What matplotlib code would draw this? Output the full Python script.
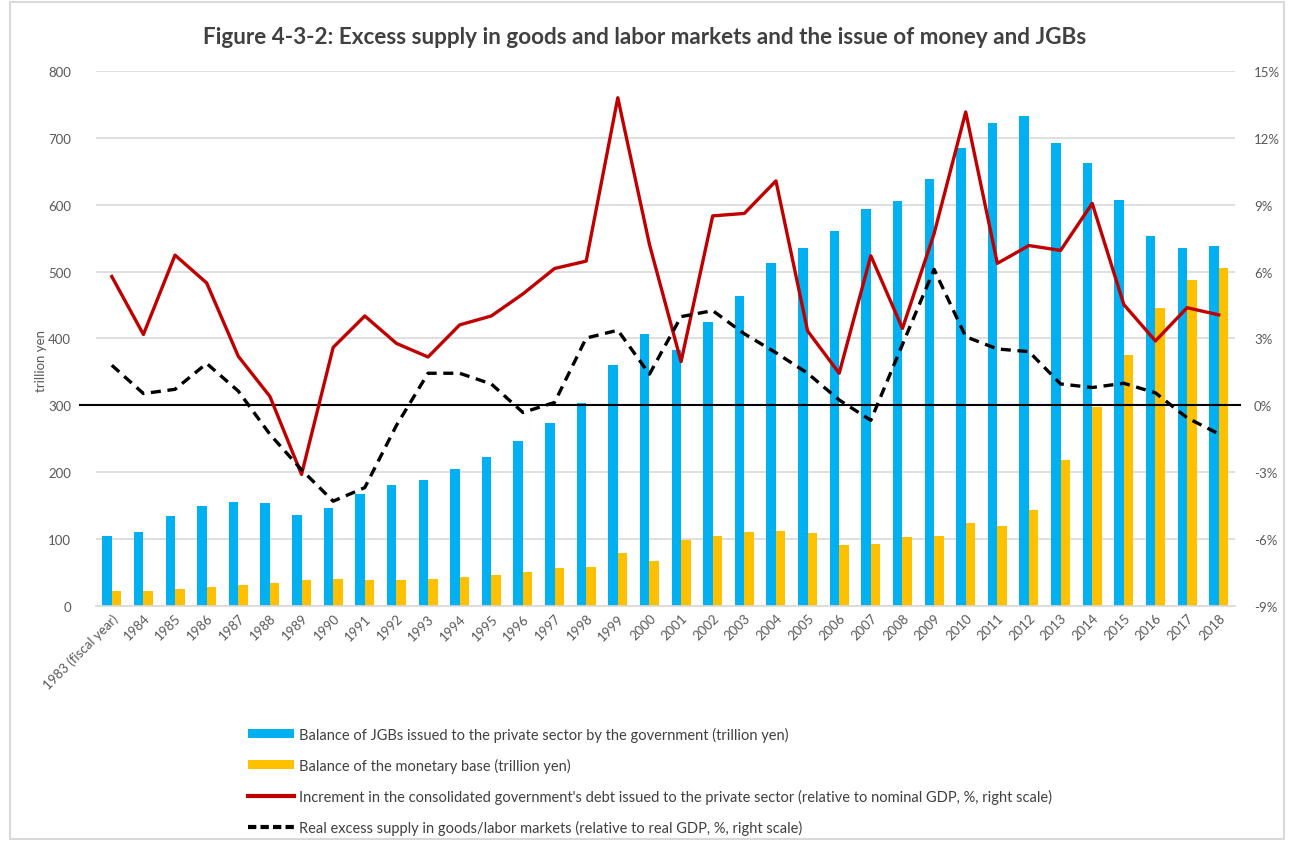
import matplotlib
matplotlib.use("Agg")
import matplotlib.pyplot as plt
from matplotlib.patches import Patch, Rectangle
from matplotlib.lines import Line2D
import numpy as np

years = ["1983 (fiscal year)"] + [str(y) for y in range(1984, 2019)]

jgb_balance = [104, 111, 134, 150, 155, 154, 136, 146, 167, 181, 189, 205, 223, 246,
               273, 304, 360, 407, 383, 424, 464, 513, 535, 560, 594, 605, 639, 685,
               722, 733, 693, 663, 607, 553, 535, 539]
monetary_base = [23, 23, 26, 28, 31, 35, 39, 41, 39, 39, 41, 43, 47, 51,
                 57, 59, 79, 67, 98, 104, 111, 112, 109, 91, 93, 103, 104, 124,
                 119, 143, 219, 297, 376, 446, 487, 505]
debt_increment = [5.78, 3.18, 6.74, 5.49, 2.20, 0.40, -3.10, 2.60, 4.01, 2.78, 2.17, 3.61, 4.01, 5.0,
                  6.14, 6.47, 13.8, 7.22, 1.96, 8.50, 8.61, 10.07, 3.34, 1.44, 6.71, 3.45, 7.70, 13.16,
                  6.37, 7.17, 6.95, 9.06, 4.52, 2.89, 4.38, 4.06]
excess_supply = [1.80, 0.53, 0.72, 1.88, 0.64, -1.3, -2.89, -4.30, -3.69, -0.9, 1.44, 1.44, 0.96, -0.32,
                 0.13, 3.02, 3.37, 1.40, 3.98, 4.25, 3.21, 2.36, 1.44, 0.24, -0.67, 2.73, 6.10, 3.08,
                 2.53, 2.41, 0.96, 0.80, 0.99, 0.56, -0.56, -1.28]

left_ticks = [0, 100, 200, 300, 400, 500, 600, 700, 800]
right_ticks = [-9, -6, -3, 0, 3, 6, 9, 12, 15]

labels = [
    "Balance of JGBs issued to the private sector by the government (trillion yen)",
    "Balance of the monetary base (trillion yen)",
    "Increment in the consolidated government's debt issued to the private sector (relative to nominal GDP, %, right scale)",
    "Real excess supply in goods/labor markets (relative to real GDP, %, right scale)",
]

BLUE = "#00B0F0"
YELLOW = "#FFC000"
RED = "#C00000"
GRID = "#D9D9D9"
TXT = "#595959"
FONT = ["Lato", "DejaVu Sans"]

plt.rcParams["font.family"] = FONT

fig = plt.figure(figsize=(12.9, 8.45), dpi=100)
ax = fig.add_axes([0.0744, 0.2817, 0.8826, 0.6331])
ax2 = ax.twinx()

x = np.arange(len(years))
w = 0.3
ax.bar(x - w / 2, jgb_balance, width=w, color=BLUE, zorder=2)
ax.bar(x + w / 2, monetary_base, width=w, color=YELLOW, zorder=2)

ax.set_ylim(0, 800)
ax.set_yticks(left_ticks)
ax.set_xlim(-0.5, len(years) - 0.5)
ax.grid(axis="y", color=GRID, linewidth=1.2, zorder=0)
ax.set_axisbelow(True)
for s in ax.spines.values():
    s.set_visible(False)
for s in ax2.spines.values():
    s.set_visible(False)
ax.spines["bottom"].set_visible(True)
ax.spines["bottom"].set_color(GRID)
ax.spines["bottom"].set_linewidth(1.2)

ax.tick_params(axis="y", length=0, colors=TXT, labelsize=9.5, pad=18)
ax.tick_params(axis="x", length=0, colors=TXT, labelsize=9.5, pad=4)
ax.set_xticks(x)
ax.set_xticklabels(years, rotation=45, ha="right", rotation_mode="anchor")
ax.set_ylabel("trillion yen", color=TXT, fontsize=9.5, labelpad=0)
ax.yaxis.set_label_coords(-0.043, 0.46)

ax2.set_ylim(-9, 15)
ax2.set_yticks(right_ticks)
ax2.set_yticklabels([f"{t}%" for t in right_ticks])
ax2.tick_params(axis="y", length=0, colors=TXT, labelsize=9.5, pad=14)
ax2.axhline(0, xmin=-0.014, xmax=1.005, color="black", linewidth=1.5, zorder=3, clip_on=False)
ax2.plot(x, debt_increment, color=RED, linewidth=2.4, zorder=4)
ax2.plot(x, excess_supply, color="black", linewidth=2.4, linestyle=(0, (3, 2)), zorder=4)

fig.suptitle("Figure 4-3-2: Excess supply in goods and labor markets and the issue of money and JGBs",
             x=0.5, y=0.968, fontsize=16.2, fontweight="bold", color="#404040")

handles = [
    Patch(facecolor=BLUE),
    Patch(facecolor=YELLOW),
    Line2D([], [], color=RED, linewidth=3),
    Line2D([], [], color="black", linewidth=3, linestyle=(0, (2, 1))),
]
fig.legend(handles, labels, loc="upper left", bbox_to_anchor=(0.192, 0.139),
           bbox_transform=fig.transFigure, frameon=False, fontsize=10.5,
           handlelength=3.2, handleheight=0.5, handletextpad=0.3, labelspacing=1.1,
           labelcolor="#404040", borderaxespad=0, borderpad=0)

fig.patches.append(Rectangle((0.008, 0.006), 0.987, 0.99, transform=fig.transFigure,
                             fill=False, edgecolor=GRID, linewidth=1.5))

fig.savefig("out.png", dpi=100)
